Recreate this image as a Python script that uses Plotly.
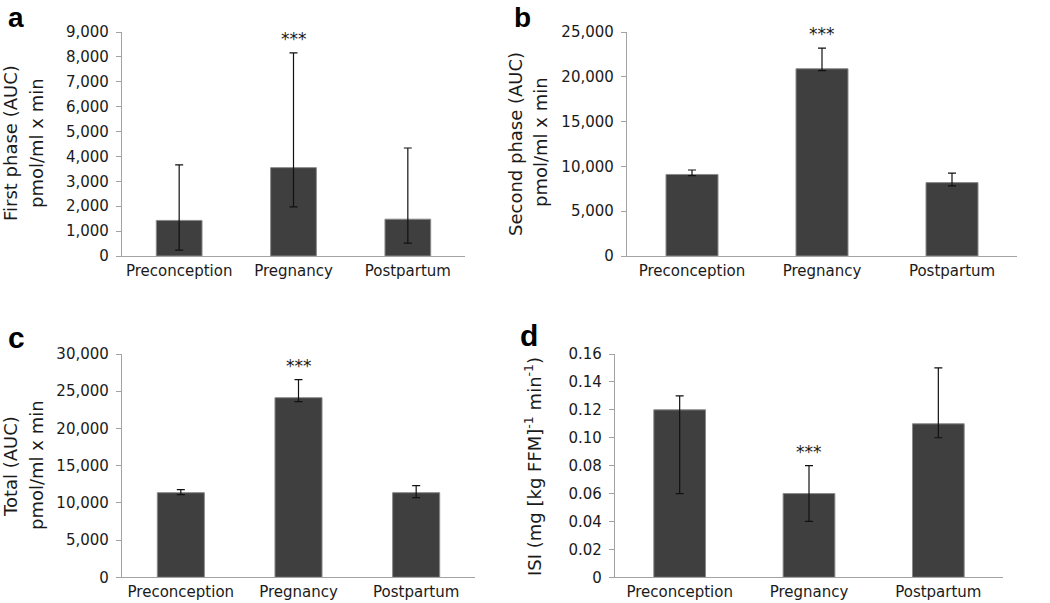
import plotly.graph_objects as go

W, H = 1050, 603

categories = ["Preconception", "Pregnancy", "Postpartum"]

first_phase = [1430, 3550, 1480]
first_hi = [3660, 8160, 4340]
first_lo = [240, 1970, 520]

second_phase = [9100, 20900, 8190]
second_hi = [9600, 23200, 9240]
second_lo = [8960, 20700, 7820]

total_auc = [11370, 24130, 11370]
total_hi = [11770, 26550, 12310]
total_lo = [11100, 23590, 10700]

isi = [0.12, 0.06, 0.11]
isi_hi = [0.13, 0.08, 0.15]
isi_lo = [0.06, 0.04, 0.10]

ticks_a = [0, 1000, 2000, 3000, 4000, 5000, 6000, 7000, 8000, 9000]
ticks_b = [0, 5000, 10000, 15000, 20000, 25000]
ticks_c = [0, 5000, 10000, 15000, 20000, 25000, 30000]
ticks_d = [0, 0.02, 0.04, 0.06, 0.08, 0.10, 0.12, 0.14, 0.16]
ticks_d_text = ["0", "0.02", "0.04", "0.06", "0.08", "0.10", "0.12", "0.14", "0.16"]

# which bar carries the significance stars in each panel
star_index = {"a": 1, "b": 1, "c": 1, "d": 1}

BAR = "#3f3f3f"
AXIS = "#a3a3a3"
TXT = "#1a1a1a"
FONT = "DejaVu Sans"

panels = [
    # key, values, hi, lo, ymax, tickvals, ticktext, xdom(px), ydom(px)
    ("a", first_phase, first_hi, first_lo, 9000, ticks_a, None, (122, 465), (32, 256)),
    ("b", second_phase, second_hi, second_lo, 25000, ticks_b, None, (627, 1017), (32, 256)),
    ("c", total_auc, total_hi, total_lo, 30000, ticks_c, None, (122, 475), (354, 577.3)),
    ("d", isi, isi_hi, isi_lo, 0.16, ticks_d, ticks_d_text, (615, 1003), (354, 577.3)),
]

fig = go.Figure()
annotations = []

for i, (key, vals, hi, lo, ymax, tv, tt, xd, yd) in enumerate(panels):
    n = "" if i == 0 else str(i + 1)
    xa, ya = "x" + n, "y" + n
    plus = [h - v for h, v in zip(hi, vals)]
    minus = [v - l for v, l in zip(vals, lo)]
    fig.add_trace(go.Bar(
        x=categories, y=vals, xaxis=xa, yaxis=ya, width=0.4,
        marker=dict(color=BAR, line=dict(color="#8a8a8a", width=1)),
        error_y=dict(type="data", symmetric=False, array=plus, arrayminus=minus,
                     color="#111111", thickness=1.2, width=4),
        showlegend=False, hoverinfo="x+y",
    ))
    xdom = [xd[0] / W, xd[1] / W]
    ydom = [1 - yd[1] / H, 1 - yd[0] / H]
    xaxis = dict(domain=xdom, anchor=ya, showline=True, linecolor=AXIS, linewidth=1.3,
                 ticks="", showgrid=False, zeroline=False, ticklabelstandoff=1,
                 automargin=False,
                 tickfont=dict(family=FONT, size=15, color=TXT), fixedrange=True)
    yaxis = dict(domain=ydom, anchor=xa, range=[0, ymax], showline=True, linecolor=AXIS,
                 linewidth=1.3, ticks="outside", ticklen=5, tickcolor=AXIS,
                 tickvals=tv, showgrid=False, zeroline=False, ticklabelstandoff=4,
                 automargin=False,
                 tickfont=dict(family=FONT, size=15, color=TXT), fixedrange=True)
    if tt is not None:
        yaxis["ticktext"] = tt
    else:
        yaxis["tickformat"] = ",d"
    fig.update_layout(**{"xaxis" + n: xaxis, "yaxis" + n: yaxis})

    si = star_index[key]
    annotations.append(dict(x=categories[si], y=hi[si], xref=xa, yref=ya, text="***",
                            showarrow=False, yanchor="bottom", xanchor="center",
                            yshift=2, font=dict(family=FONT, size=17, color=TXT)))

# panel letters
for letter, px, py, fs in [("a", 16, 18, 28), ("b", 522, 18, 28), ("c", 16, 337, 30), ("d", 529, 335, 30)]:
    annotations.append(dict(x=px / W, y=1 - py / H, xref="paper", yref="paper", text="<b>%s</b>" % letter,
                            showarrow=False, xanchor="center", yanchor="middle",
                            font=dict(family="Liberation Sans", size=fs, color="#000000")))

# axis titles (two rotated lines each)
titles = [
    ("First phase (AUC)", 10, 143), ("pmol/ml x min", 36, 143),
    ("Second phase (AUC)", 515, 144), ("pmol/ml x min", 540, 142),
    ("Total (AUC)", 10, 467), ("pmol/ml x min", 36, 465),
    ("ISI (mg [kg FFM]<sup>-1</sup> min<sup>-1</sup>)", 533, 467),
]
for text, px, py in titles:
    annotations.append(dict(x=px / W, y=1 - py / H, xref="paper", yref="paper", text=text,
                            showarrow=False, textangle=-90, xanchor="center", yanchor="middle",
                            font=dict(family=FONT, size=18, color=TXT)))

fig.update_layout(
    width=W, height=H, margin=dict(l=0, r=0, t=0, b=0, autoexpand=False),
    paper_bgcolor="white", plot_bgcolor="white",
    annotations=annotations, bargap=0.6,
)

fig.write_html("out.html", config={"displayModeBar": False},
               post_script="document.body.style.margin='0';")
